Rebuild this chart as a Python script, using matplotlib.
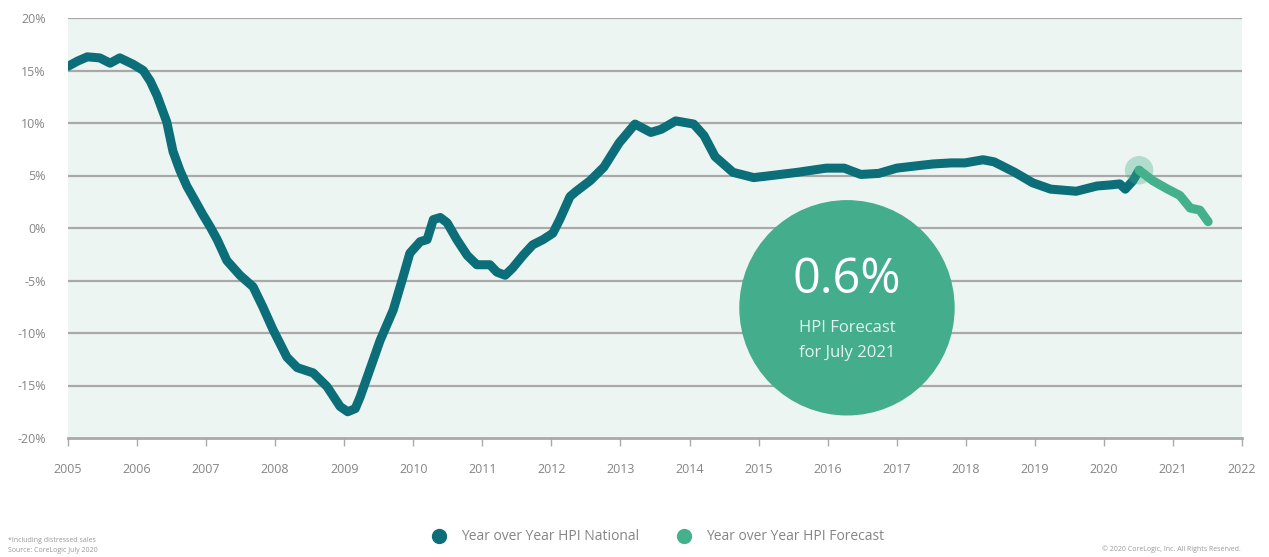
import matplotlib
matplotlib.use("Agg")
import matplotlib.pyplot as plt
from matplotlib.lines import Line2D
from matplotlib.patches import Ellipse

plt.rcParams["font.family"] = ["Open Sans", "DejaVu Sans"]

## year over year HPI, national
hpi_years = [2005.00, 2005.14, 2005.28, 2005.46, 2005.61, 2005.75, 2005.94, 2006.09,
             2006.19, 2006.29, 2006.43, 2006.52, 2006.62, 2006.72, 2006.84, 2006.95,
             2007.06, 2007.16, 2007.30, 2007.49, 2007.68, 2007.82, 2007.97, 2008.17,
             2008.32, 2008.55, 2008.75, 2008.94, 2009.05, 2009.16, 2009.23, 2009.37,
             2009.52, 2009.71, 2009.85, 2009.95, 2010.10, 2010.20, 2010.29, 2010.39,
             2010.49, 2010.63, 2010.78, 2010.92, 2011.11, 2011.21, 2011.33, 2011.44,
             2011.59, 2011.73, 2011.88, 2012.02, 2012.12, 2012.27, 2012.36, 2012.56,
             2012.76, 2012.98, 2013.21, 2013.44, 2013.59, 2013.80, 2014.06, 2014.21,
             2014.37, 2014.63, 2014.93, 2015.19, 2015.56, 2015.98, 2016.24, 2016.48,
             2016.74, 2017.00, 2017.26, 2017.53, 2017.79, 2017.99, 2018.25, 2018.41,
             2018.71, 2018.97, 2019.23, 2019.60, 2019.90, 2020.09, 2020.23, 2020.31,
             2020.42, 2020.51]
hpi_values = [15.4, 15.9, 16.3, 16.2, 15.7, 16.2, 15.6, 15.0,
              14.0, 12.6, 10.1, 7.3, 5.5, 4.0, 2.6, 1.3,
              0.1, -1.1, -3.1, -4.5, -5.6, -7.5, -9.7, -12.3,
              -13.3, -13.8, -15.1, -17.0, -17.5, -17.2, -16.1, -13.5,
              -10.7, -7.8, -4.7, -2.4, -1.3, -1.1, 0.8, 1.0,
              0.5, -1.1, -2.6, -3.5, -3.5, -4.2, -4.5, -3.8,
              -2.6, -1.6, -1.1, -0.5, 0.8, 3.0, 3.5, 4.5,
              5.8, 8.1, 9.9, 9.1, 9.4, 10.2, 9.9, 8.8,
              6.8, 5.3, 4.8, 5.0, 5.3, 5.7, 5.7, 5.1,
              5.2, 5.7, 5.9, 6.1, 6.2, 6.2, 6.5, 6.3,
              5.3, 4.3, 3.7, 3.5, 4.0, 4.1, 4.2, 3.7,
              4.5, 5.5]

## forecast
fc_years = [2020.51, 2020.71, 2020.91, 2021.10, 2021.25, 2021.39, 2021.51]
fc_values = [5.5, 4.5, 3.75, 3.1, 1.9, 1.7, 0.6]

year_ticks = list(range(2005, 2023))
pct_ticks = [-20, -15, -10, -5, 0, 5, 10, 15, 20]

dark = "#0b6e78"
green = "#45b08c"
grey_txt = "#858585"

fig = plt.figure(figsize=(12.69, 5.57), dpi=100)
ax = fig.add_axes([68 / 1269, 119 / 557, 1174 / 1269, 420 / 557])
ax.set_facecolor("#edf5f2")

for v in pct_ticks[1:]:
    ax.axhline(v, color="#a9a9a9", lw=1.6, zorder=1)

ax.plot(hpi_years, hpi_values, color=dark, lw=6.5, solid_capstyle="round",
        solid_joinstyle="round", zorder=3)
ax.plot(fc_years, fc_values, color=green, lw=6.5, solid_capstyle="round",
        solid_joinstyle="round", zorder=3)
ax.scatter([fc_years[0]], [fc_values[0]], s=420, color=green, alpha=0.35,
           edgecolor="none", zorder=4)

# big forecast bubble
ax.add_patch(Ellipse((2016.28, -7.6), 214 / 69.06, 214 / 10.5, color="#44ad8c",
                     zorder=5))
ax.text(2016.28, -5.0, "0.6%", color="white", fontsize=35, ha="center",
        va="center", zorder=6)
ax.text(2016.28, -9.5, "HPI Forecast", color="#e4f4ee", fontsize=12,
        ha="center", va="center", zorder=6)
ax.text(2016.28, -11.9, "for July 2021", color="#e4f4ee", fontsize=12,
        ha="center", va="center", zorder=6)

ax.set_xlim(2005, 2022)
ax.set_ylim(-20, 20)
ax.set_xticks(year_ticks)
ax.set_xticklabels([str(y) for y in year_ticks])
ax.set_yticks(pct_ticks)
ax.set_yticklabels([f"{v}%" for v in pct_ticks])
ax.tick_params(axis="x", length=6, width=1, color="#a9a9a9", pad=12,
               labelsize=9, labelcolor=grey_txt)
ax.tick_params(axis="y", length=0, pad=16, labelsize=9, labelcolor=grey_txt)
for s in ["top", "right", "left"]:
    ax.spines[s].set_visible(False)
ax.spines["bottom"].set_color("#a9a9a9")
ax.spines["bottom"].set_linewidth(2)

handles = [
    Line2D([], [], marker="o", ls="none", color=dark, markersize=10,
           label="Year over Year HPI National"),
    Line2D([], [], marker="o", ls="none", color=green, markersize=10,
           label="Year over Year HPI Forecast"),
]
fig.legend(handles=handles, loc="center", bbox_to_anchor=(0.516, 1 - 537 / 557),
           ncol=2, frameon=False, fontsize=10, labelcolor=grey_txt,
           columnspacing=2.2, handletextpad=0.6)

fig.text(0.006, 1 - 540 / 557, "*Including distressed sales", fontsize=5,
         color="#999999", va="center")
fig.text(0.006, 1 - 550 / 557, "Source: CoreLogic July 2020", fontsize=5,
         color="#999999", va="center")
fig.text(0.978, 1 - 549 / 557, "\u00a9 2020 CoreLogic, Inc. All Rights Reserved.",
         fontsize=5, color="#999999", va="center", ha="right")

fig.savefig("out.png", dpi=100)
